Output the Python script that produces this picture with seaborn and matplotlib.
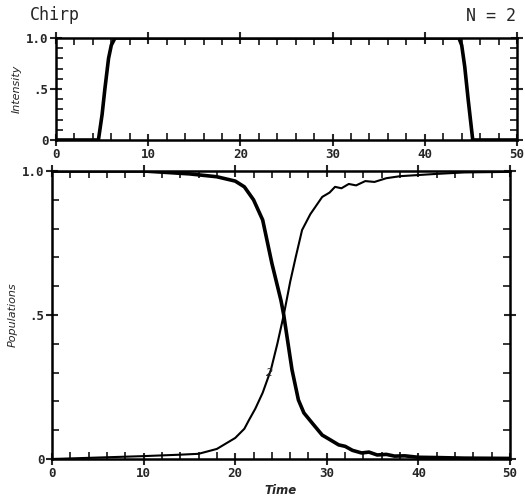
import numpy as np
import pandas as pd
import matplotlib
matplotlib.use("Agg")
import matplotlib.pyplot as plt
import seaborn as sns
from matplotlib.ticker import MultipleLocator, FixedLocator, FixedFormatter

# ---- data ----
pulse_time = [0, 4.6, 5.0, 5.3, 5.7, 6.0, 6.4, 7.0, 43.7, 44.0, 44.33, 44.7, 45.2, 50]
pulse_intensity = [0, 0, 0.25, 0.5, 0.8, 0.93, 1.0, 1.0, 1.0, 0.93, 0.72, 0.4, 0.0, 0]

pop1_time = [0, 5, 10, 15, 18, 20, 21, 22, 23, 24, 25, 25.3, 26.2, 26.9, 27.5, 28.4, 29.5,
             30.3, 31.3, 32.0, 32.8, 33.8, 34.6, 35.5, 36.5, 37.4, 38.5, 40, 42, 45, 50]
pop1_values = [1.0, 1.0, 1.0, 0.99, 0.98, 0.965, 0.945, 0.90, 0.83, 0.68, 0.55, 0.50, 0.31, 0.205,
               0.16, 0.125, 0.083, 0.068, 0.049, 0.044, 0.03, 0.021, 0.024, 0.014, 0.016, 0.01,
               0.011, 0.006, 0.005, 0.003, 0.002]

pop2_time = [0, 5, 10, 14, 16, 18, 20, 21, 21.5, 22.2, 23, 23.9, 24.6, 25.3, 26.0, 26.6, 27.3,
             28.2, 29.5, 30.3, 30.9, 31.6, 32.4, 33.2, 34.2, 35.2, 36.5, 38, 40, 42, 45, 50]
pop2_values = [0.0, 0.005, 0.01, 0.015, 0.018, 0.035, 0.073, 0.105, 0.135, 0.175, 0.23, 0.31,
               0.40, 0.50, 0.615, 0.70, 0.795, 0.85, 0.91, 0.925, 0.945, 0.94, 0.955, 0.95,
               0.965, 0.962, 0.975, 0.982, 0.986, 0.99, 0.995, 0.997]

x_ticks = [0, 10, 20, 30, 40, 50]
x_ticklabels = ["0", "10", "20", "30", "40", "50"]
y_ticks = [0, 0.5, 1.0]
y_ticklabels = ["0", ".5", "1.0"]

pulse_df = pd.DataFrame({"Time": pulse_time, "Intensity": pulse_intensity})
pop1_df = pd.DataFrame({"Time": pop1_time, "Population": pop1_values})
pop2_df = pd.DataFrame({"Time": pop2_time, "Population": pop2_values})

sns.set_style("ticks")
plt.rcParams["font.family"] = ["DejaVu Sans"]

W, H = 525, 499
fig = plt.figure(figsize=(5.25, 4.99), dpi=100)
ax1 = fig.add_axes([56 / W, 1 - 140 / H, (517 - 56) / W, (140 - 38) / H])
ax2 = fig.add_axes([52 / W, 1 - 459 / H, (510 - 52) / W, (459 - 171) / H])

sns.lineplot(data=pulse_df, x="Time", y="Intensity", ax=ax1, color="black", linewidth=2.6)
sns.lineplot(data=pop1_df, x="Time", y="Population", ax=ax2, color="black", linewidth=2.6)
sns.lineplot(data=pop2_df, x="Time", y="Population", ax=ax2, color="black", linewidth=1.5)

mono = "DejaVu Sans Mono"
for ax in (ax1, ax2):
    ax.set_xlim(0, 50)
    ax.set_ylim(0, 1.0)
    ax.xaxis.set_major_locator(FixedLocator(x_ticks))
    ax.xaxis.set_major_formatter(FixedFormatter(x_ticklabels))
    ax.yaxis.set_major_locator(FixedLocator(y_ticks))
    ax.yaxis.set_major_formatter(FixedFormatter(y_ticklabels))
    ax.xaxis.set_minor_locator(MultipleLocator(2))
    ax.yaxis.set_minor_locator(MultipleLocator(0.1))
    ax.tick_params(which="major", direction="inout", length=9, width=1.5,
                   top=True, right=True, labelsize=9, pad=1)
    ax.tick_params(which="minor", direction="in", length=5, width=1.3,
                   top=True, right=True)
    for s in ax.spines.values():
        s.set_linewidth(1.8)
        s.set_color("black")
    for lab in ax.get_xticklabels() + ax.get_yticklabels():
        lab.set_fontfamily(mono)
        lab.set_fontweight("bold")
    ax.set_xlabel("")
    ax.set_ylabel("")

ax1.set_ylabel("Intensity", fontsize=8, style="italic", labelpad=3)
ax2.set_ylabel("Populations", fontsize=8, style="italic", labelpad=3)
ax2.set_xlabel("Time", fontsize=8.5, style="italic", fontweight="bold", labelpad=3)

ax2.text(23.8, 0.30, "2", fontsize=8, ha="center", va="center", style="italic")

fig.text(30 / W, 1 - 15 / H, "Chirp", fontsize=12, family=mono, ha="left", va="center")
fig.text(516 / W, 1 - 16 / H, "N = 2", fontsize=12, family=mono, ha="right", va="center")

fig.savefig("out.png", dpi=100)
